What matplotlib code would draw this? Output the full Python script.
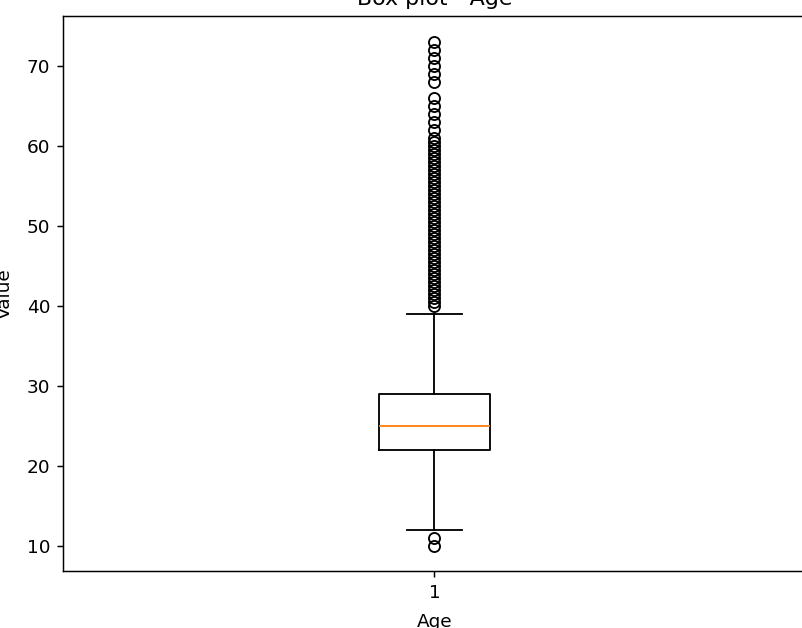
import matplotlib
matplotlib.use('Agg')
import matplotlib.pyplot as plt

# summary stats
label = '1'
median = 25
q1 = 22
q3 = 29
whisker_low = 12
whisker_high = 39
fliers_low = [10, 11]
fliers_high = [40, 40.5, 41, 41.5, 42, 42.5, 43, 43.5, 44, 44.5, 45, 45.5,
               46, 46.5, 47, 47.5, 48, 48.5, 49, 49.5, 50, 50.5, 51, 51.5,
               52, 52.5, 53, 53.5, 54, 54.5, 55, 55.5, 56, 56.5, 57, 57.5,
               58, 58.5, 59, 59.5, 60, 60.5, 61, 62, 63, 64, 65, 66, 68,
               69, 70, 71, 72, 73]

stats = [{'label': label, 'med': median, 'q1': q1, 'q3': q3,
          'whislo': whisker_low, 'whishi': whisker_high,
          'fliers': fliers_low + fliers_high}]

dpi = 133
fig = plt.figure(figsize=(802/dpi, 628/dpi), dpi=dpi)
ax = fig.add_axes([63/802, 57/628, 743/802, 555/628])
ax.bxp(stats)
ax.set_ylim(6.85, 76.2)
ax.set_title('Box plot - Age')
ax.set_xlabel('Age', labelpad=6)
ax.set_ylabel('Value', labelpad=7)

fig.savefig('out.png', dpi=dpi)
